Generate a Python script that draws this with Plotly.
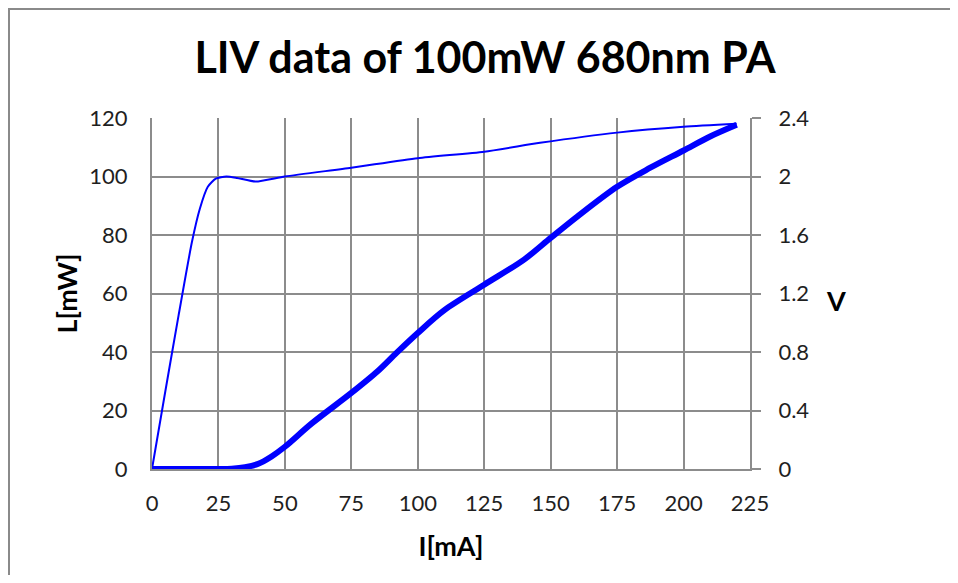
import plotly.graph_objects as go

# ---- data ----
current_v = [0, 5, 10, 15, 18, 21, 24, 28, 32, 39, 50, 75, 100, 125, 146, 175, 200, 220]
voltage = [0, 0.53, 1.05, 1.55, 1.78, 1.93, 1.985, 2.0, 1.99, 1.965, 2.0, 2.06, 2.125,
           2.17, 2.23, 2.30, 2.34, 2.36]

current_l = [0, 10, 20, 25, 30, 35, 40, 45, 50, 60, 75, 85, 92, 100, 110, 125, 140,
             150, 160, 175, 187.5, 200, 210, 220]
power = [0, 0, 0, 0, 0.1, 0.6, 1.8, 4.3, 7.6, 15.5, 26, 33.5, 39.7, 46.5, 54.3, 63, 71.6,
         79, 86.3, 96.5, 103, 108.9, 113.7, 117.7]

x_ticks = [0, 25, 50, 75, 100, 125, 150, 175, 200, 225]
l_ticks = [0, 20, 40, 60, 80, 100, 120]
v_ticks = [0, 0.4, 0.8, 1.2, 1.6, 2.0, 2.4]
v_tick_labels = ["0", "0.4", "0.8", "1.2", "1.6", "2", "2.4"]

title_text = "LIV data of 100mW 680nm PA"
x_title = "I[mA]"
l_title = "L[mW]"
v_title = "V"

# ---- layout geometry (page has an 8px body margin) ----
OFF = 8
WIN_W, WIN_H = 958, 583
W, H = WIN_W - 2 * OFF, WIN_H - 2 * OFF
PL, PR, PT, PB = 152, 750, 118, 469          # plot area in window pixels
ML, MR, MT, MB = PL - OFF, (OFF + W) - PR, PT - OFF, (OFF + H) - PB
PW, PH = PR - PL, PB - PT


def px(xp):
    return (xp - PL) / PW


def py(yp):
    return (PB - yp) / PH


FONT = "Lato, Carlito, 'Open Sans', sans-serif"
GRID = "#8c8c8c"
BLUE = "#0000ff"

fig = go.Figure()
fig.add_trace(go.Scatter(
    x=current_v, y=voltage, yaxis="y2", mode="lines",
    line=dict(color=BLUE, width=2, shape="spline", smoothing=0.6),
    name="V", showlegend=False,
))
fig.add_trace(go.Scatter(
    x=current_l, y=power, mode="lines",
    line=dict(color=BLUE, width=6, shape="spline", smoothing=0.9),
    name="L", showlegend=False,
))

fig.update_layout(
    width=W, height=H, autosize=False,
    margin=dict(l=ML, r=MR, t=MT, b=MB, pad=0),
    paper_bgcolor="white", plot_bgcolor="white",
    font=dict(family=FONT, color="#1f1f1f"),
    title=dict(text=title_text, x=(485 - OFF) / W, xref="container", xanchor="center",
               y=1 - (58 - OFF) / H, yref="container", yanchor="middle",
               font=dict(family=FONT, size=43, color="black", weight="bold")),
    xaxis=dict(range=[0, 225], tickvals=x_ticks, showgrid=True, gridcolor=GRID,
               gridwidth=2, showline=True, linecolor=GRID, linewidth=2,
               zeroline=False, ticks="", tickfont=dict(size=22),
               ticklabelstandoff=14,
               title=dict(text=x_title, standoff=22,
                          font=dict(size=27, color="black", weight="bold"))),
    yaxis=dict(range=[0, 120], tickvals=l_ticks, showgrid=True, gridcolor=GRID,
               gridwidth=2, showline=True, linecolor=GRID, linewidth=2,
               zeroline=False, ticks="", tickfont=dict(size=22),
               ticklabelstandoff=18,
               title=dict(text=l_title, standoff=4,
                          font=dict(size=27, color="black", weight="bold"))),
    yaxis2=dict(range=[0, 2.4], overlaying="y", side="right",
                tickvals=v_ticks, ticktext=v_tick_labels, showgrid=False,
                zeroline=False, showline=True, linecolor=GRID, linewidth=2,
                ticks="outside", ticklen=9, tickwidth=2, tickcolor=GRID,
                tickfont=dict(size=22), ticklabelstandoff=13),
    annotations=[dict(text=v_title, x=px(836), y=py(300), xref="paper", yref="paper",
                      showarrow=False, xanchor="center", yanchor="middle",
                      font=dict(family=FONT, size=27, color="black", weight="bold"))],
    shapes=[
        # outer chart frame: only its top and left edges fall inside the page
        dict(type="rect", xref="paper", yref="paper", layer="below",
             x0=px(OFF + 1), x1=px(WIN_W + 60), y0=py(OFF + 1), y1=py(WIN_H + 60),
             line=dict(color="#8a8a8a", width=2), fillcolor="rgba(0,0,0,0)"),
    ],
)

fig.write_html("out.html")
